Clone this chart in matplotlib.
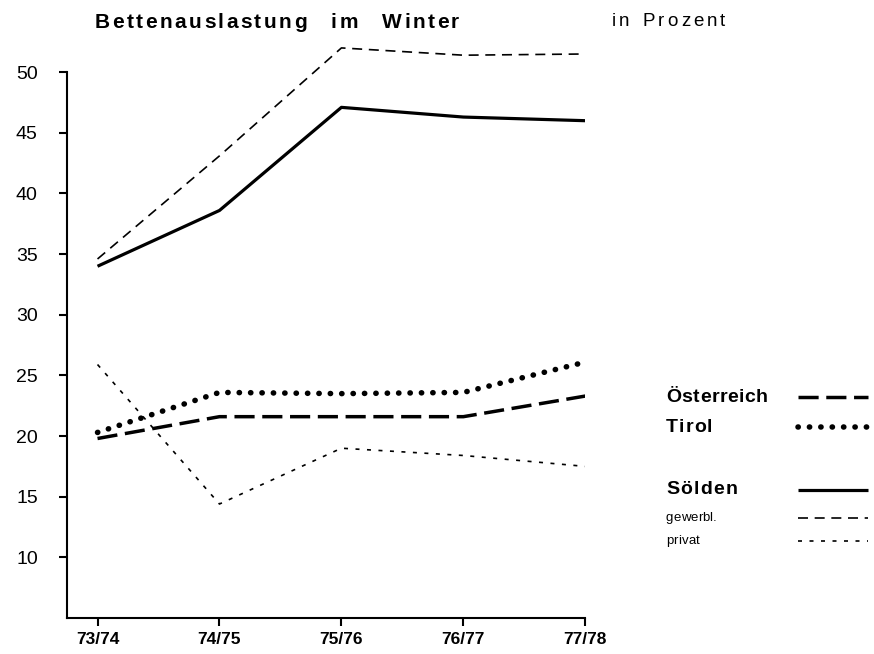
import matplotlib.pyplot as plt
from matplotlib.lines import Line2D

plt.rcParams['font.family'] = ['Liberation Sans', 'DejaVu Sans']

seasons = ["73/74", "74/75", "75/76", "76/77", "77/78"]
oesterreich = [19.8, 21.6, 21.6, 21.6, 23.3]
tirol = [20.3, 23.6, 23.5, 23.6, 26.1]
soelden = [34.0, 38.6, 47.1, 46.3, 46.0]
gewerbl = [34.6, 43.1, 52.0, 51.4, 51.5]
privat = [25.9, 14.4, 19.0, 18.4, 17.5]
yticks = [10, 15, 20, 25, 30, 35, 40, 45, 50]

W, H = 874, 654
fig = plt.figure(figsize=(W / 100, H / 100), dpi=100)
ax = fig.add_axes([0.0767, 0.055, 0.593, 0.881])
renderer = fig.canvas.get_renderer()


def spaced_text(x0, y0, s, track, space, **kw):
    # draw text letter by letter (pixel coords, y from top) to mimic wide tracking
    x = x0
    for ch in s:
        if ch == " ":
            x += space
            continue
        t = fig.text(x / W, 1 - y0 / H, ch, va="center", ha="left", **kw)
        x += t.get_window_extent(renderer).width + track


x = range(len(seasons))
styles = {
    "oe": dict(color="black", lw=2.5, dashes=(5.8, 2.2)),
    "ti": dict(color="black", lw=4.0, dashes=(0.05, 2.0), dash_capstyle="round"),
    "so": dict(color="black", lw=2.3, solid_capstyle="butt"),
    "ge": dict(color="black", lw=1.2, dashes=(6, 4)),
    "pr": dict(color="black", lw=1.2, dashes=(2.4, 4.5)),
}
ax.plot(x, oesterreich, **styles["oe"])
ax.plot(x, tirol, **styles["ti"])
ax.plot(x, soelden, **styles["so"])
ax.plot(x, gewerbl, **styles["ge"])
ax.plot(x, privat, **styles["pr"])

ax.set_xlim(-0.25, 4)
ax.set_ylim(5, 52.5)
ax.set_xticks(list(x))
ax.set_xticklabels(seasons, fontsize=12.5, fontweight="bold")
ax.set_yticks(yticks)
ax.set_yticklabels([str(v) for v in yticks], fontsize=14)
ax.tick_params(axis="both", direction="out", length=6, width=1.5, color="black")
ax.tick_params(axis="y", pad=15)
ax.tick_params(axis="x", pad=4)
ax.spines["top"].set_visible(False)
ax.spines["right"].set_visible(False)
ax.spines["left"].set_bounds(5, 50)
ax.spines["left"].set_linewidth(1.5)
ax.spines["bottom"].set_linewidth(1.5)

spaced_text(95, 22, "Bettenauslastung im Winter", 2.4, 22, fontsize=15, fontweight="bold")
spaced_text(612, 22, "in Prozent", 3.0, 10, fontsize=13.5)

# legend drawn by hand
legend_items = [
    ("Österreich", 397, 14, "bold", 0.5, "oe"),
    ("Tirol", 427, 14, "bold", 1.0, "ti"),
    ("Sölden", 490, 14, "bold", 1.3, "so"),
    ("gewerbl.", 518, 9.5, "normal", 0.0, "ge"),
    ("privat", 541, 9.5, "normal", 0.3, "pr"),
]
for label, yy, fs, fw, tr, key in legend_items:
    spaced_text(666, yy, label, tr, 5, fontsize=fs, fontweight=fw)
    fig.add_artist(Line2D([798 / W, 868 / W], [1 - yy / H, 1 - yy / H],
                          transform=fig.transFigure, **styles[key]))

fig.savefig("out.png", dpi=100)
